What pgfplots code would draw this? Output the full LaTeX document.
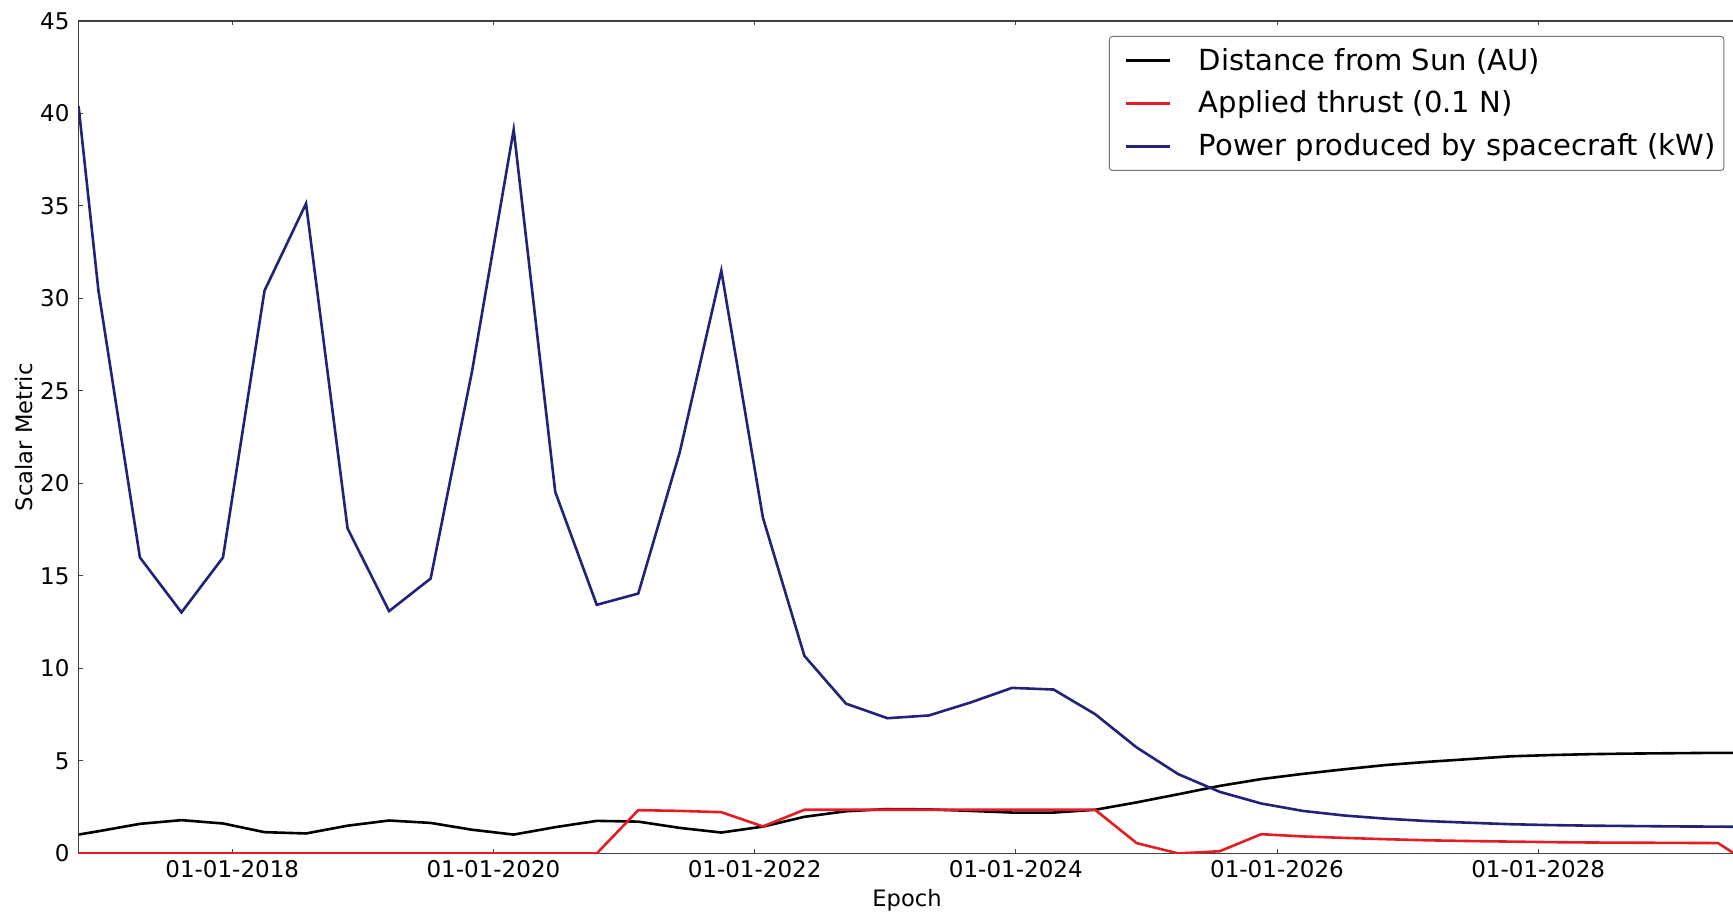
\documentclass[border=0pt]{standalone}
\usepackage{pgfplots}
\usepackage{pgfplotstable}
\pgfplotsset{compat=1.18}
\usepackage{fontspec}
\setmainfont{DejaVu Sans}
\definecolor{thrustred}{RGB}{226,30,36}
\definecolor{powerblue}{RGB}{34,34,120}

\pgfplotstableread{
x black red blue
2016.823 1.02 0.00 40.40
2016.975 1.20 0.00 30.45
2017.293 1.60 0.00 16.00
2017.611 1.80 0.00 13.03
2017.929 1.62 0.00 16.00
2018.247 1.15 0.00 30.42
2018.565 1.08 0.00 35.13
2018.883 1.50 0.00 17.57
2019.201 1.78 0.00 13.10
2019.519 1.65 0.00 14.86
2019.837 1.28 0.00 26.10
2020.155 1.02 0.00 39.13
2020.473 1.42 0.00 19.55
2020.791 1.76 0.00 13.44
2021.109 1.72 2.34 14.05
2021.427 1.38 2.30 21.70
2021.745 1.13 2.23 31.50
2022.063 1.45 1.46 18.16
2022.381 1.98 2.36 10.68
2022.699 2.28 2.36 8.10
2023.017 2.40 2.36 7.31
2023.335 2.38 2.36 7.46
2023.653 2.30 2.36 8.16
2023.971 2.21 2.36 8.95
2024.289 2.21 2.36 8.86
2024.607 2.36 2.36 7.53
2024.925 2.76 0.56 5.73
2025.243 3.20 0.00 4.29
2025.561 3.65 0.12 3.33
2025.879 4.02 1.04 2.70
2026.197 4.30 0.92 2.30
2026.515 4.55 0.84 2.05
2026.833 4.78 0.77 1.88
2027.151 4.95 0.71 1.75
2027.469 5.10 0.67 1.66
2027.787 5.25 0.64 1.58
2028.105 5.32 0.61 1.53
2028.423 5.37 0.59 1.50
2028.741 5.40 0.58 1.48
2029.059 5.42 0.57 1.46
2029.377 5.44 0.56 1.45
2029.500 5.44 0.00 1.44
}\data

\begin{document}
\begin{tikzpicture}
\begin{axis}[
  name=ax,
  scale only axis,
  width=828pt, height=416pt,
  xmin=2016.823, xmax=2029.51,
  ymin=0, ymax=45,
  xtick={2018,2020,2022,2024,2026,2028},
  xticklabels={01-01-2018,01-01-2020,01-01-2022,01-01-2024,01-01-2026,01-01-2028},
  ytick={0,5,10,15,20,25,30,35,40,45},
  ytick pos=left,
  /pgf/number format/assume math mode=true,
  tick label style={font=\fontsize{11.5}{13}\selectfont},
  yticklabel style={xshift=-1pt},
  tick align=inside,
  major tick length=2pt,
  axis line style={line width=0.7pt, black!75},
  every tick/.style={black!75, line width=0.5pt},
  xlabel={Epoch},
  ylabel={Scalar Metric},
  label style={font=\fontsize{11.3}{13}\selectfont},
  xlabel style={at={(axis description cs:0.5,-0.0565)}, anchor=center},
  ylabel style={at={(axis description cs:-0.0329,0.5)}, anchor=center},
  legend style={
    at={(axis description cs:0.99336,0.982)}, anchor=north east,
    draw=black!55, line width=0.5pt, rounded corners=1.5pt,
    font=\fontsize{14.5}{17}\selectfont,
    row sep=4.9pt, inner xsep=2.2pt, inner ysep=3.8pt,
    /tikz/every odd column/.append style={column sep=11.7pt},
  },
  legend cell align=left,
  legend image code/.code={\path (0pt,0pt); \draw[#1, line width=1.3pt] (5.5pt,0pt) -- (27.5pt,0pt);},
  clip=true,
]
\addplot[black, line width=1.3pt] table[x=x, y=black] {\data};
\addlegendentry{Distance from Sun (AU)}
\addplot[thrustred, line width=1.3pt] table[x=x, y=red] {\data};
\addlegendentry{Applied thrust (0.1 N)}
\addplot[powerblue, line width=1.3pt] table[x=x, y=blue] {\data};
\addlegendentry{Power produced by spacecraft (kW)}
\end{axis}
\pgfresetboundingbox
\path[use as bounding box] ([xshift=-39.25pt, yshift=-30pt]ax.south west) rectangle ([xshift=-1.2pt, yshift=10.5pt]ax.north east);
\end{tikzpicture}
\end{document}
